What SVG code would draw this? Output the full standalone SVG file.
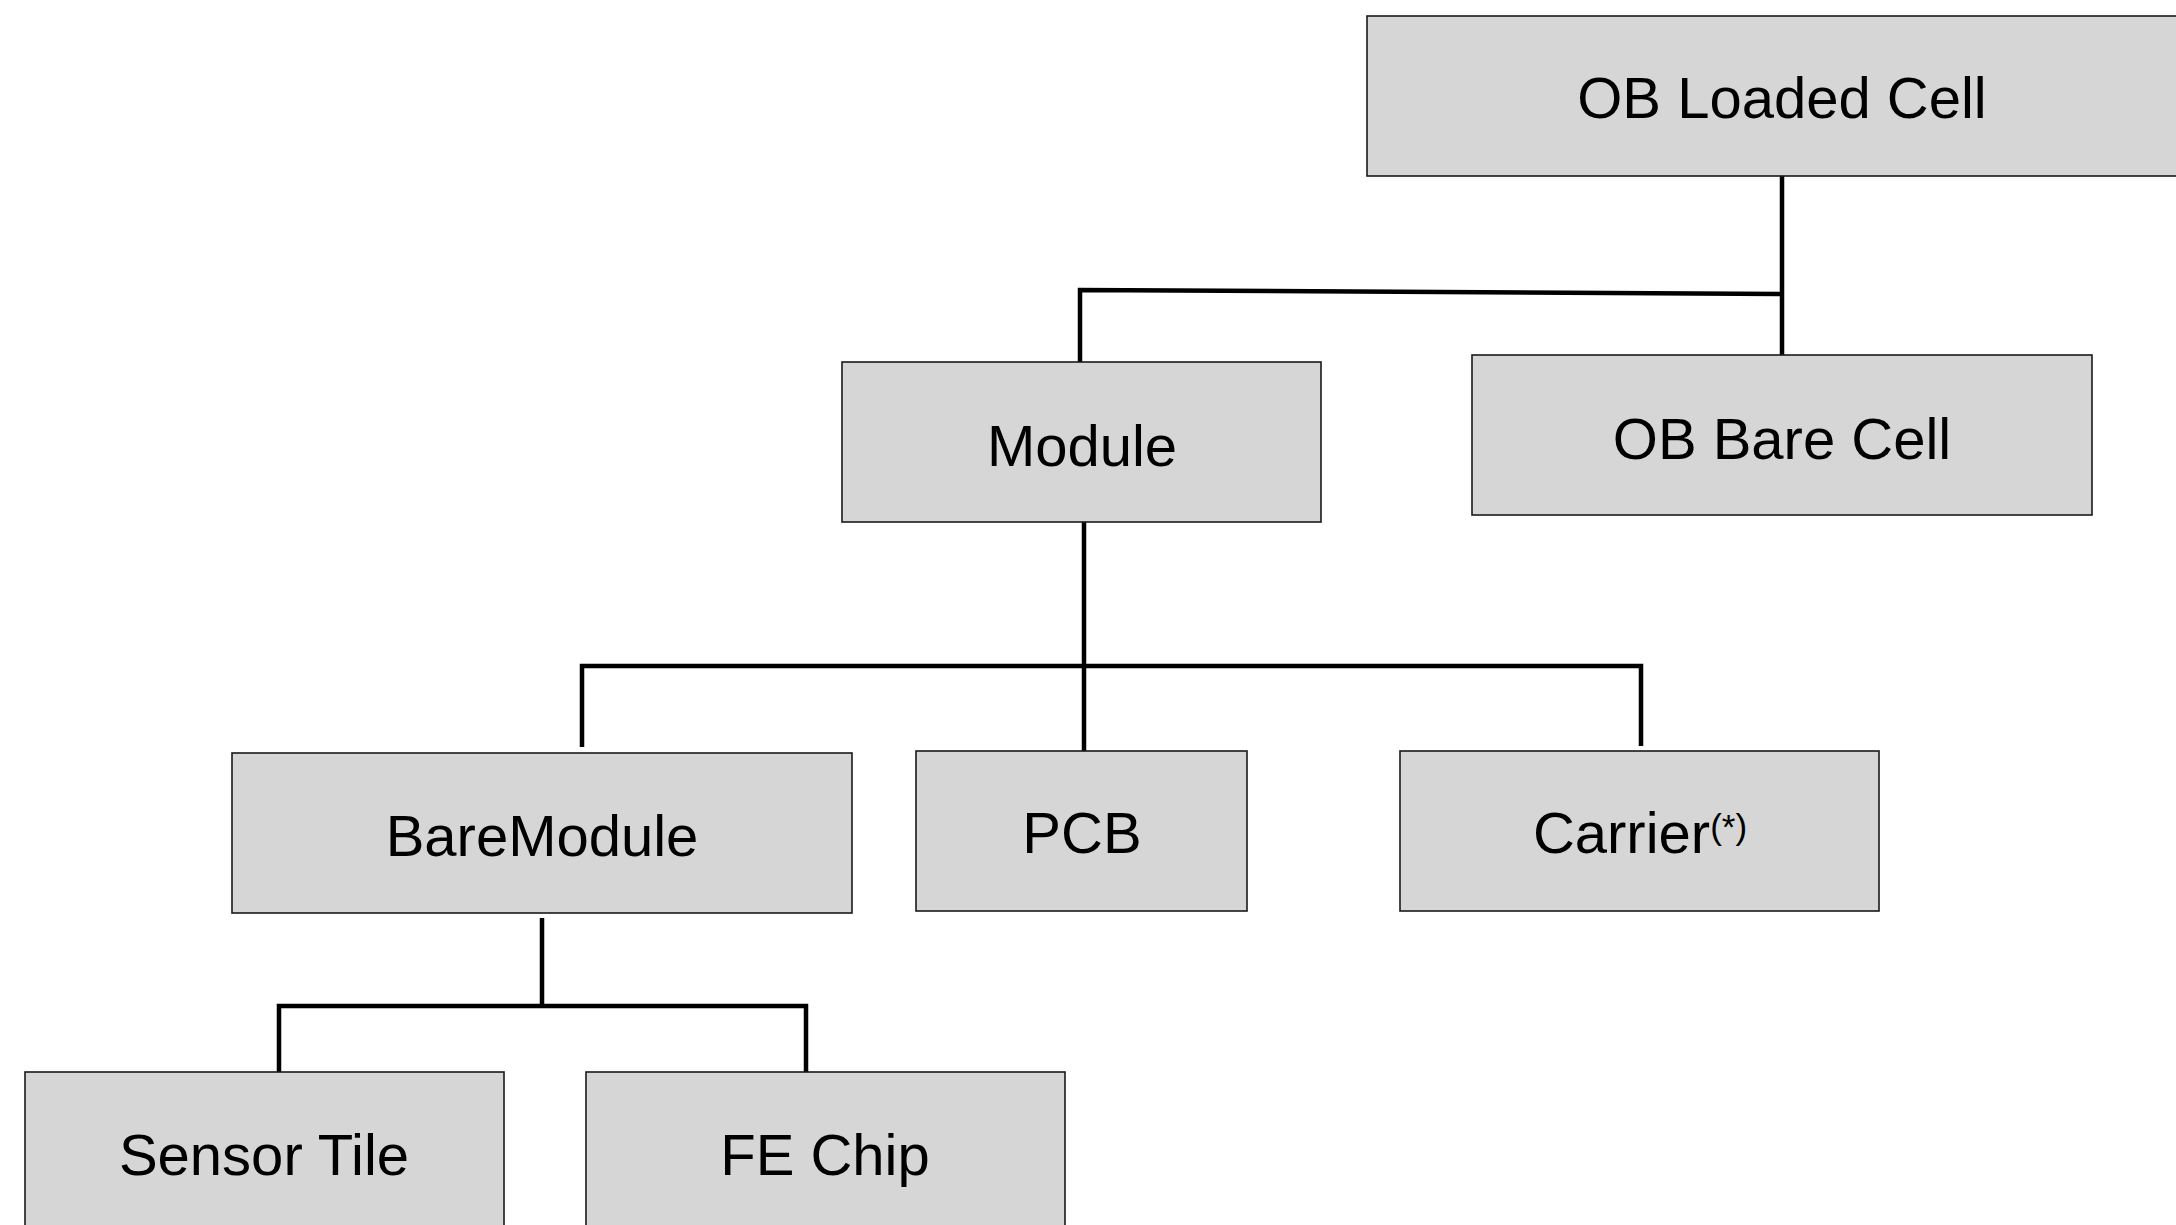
<svg xmlns="http://www.w3.org/2000/svg" width="2176" height="1225" viewBox="0 0 2176 1225">
  <style>
    .box { fill: #d6d6d6; stroke: #1a1a1a; stroke-width: 1.6; }
    .lbl { font-family: "Liberation Sans", Arial, Helvetica, sans-serif; font-size: 58px; fill: #000; text-anchor: middle; }
    .sup { font-size: 35px; }
    .wire { fill: none; stroke: #000; stroke-width: 4.5; stroke-linecap: butt; stroke-linejoin: miter; }
  </style>
  <rect width="2176" height="1225" fill="#ffffff"/>

  <!-- tree connectors -->
  <g id="connectors">
    <path class="wire" d="M1782 176 V355"/>
    <path class="wire" d="M1080 362 V290 L1782 294"/>
    <path class="wire" d="M1084 522 V751"/>
    <path class="wire" d="M582 747 V666 H1641 V746"/>
    <path class="wire" d="M542 918 V1006"/>
    <path class="wire" d="M279 1072 V1006 H806 V1072"/>
  </g>

  <g id="ob-loaded-cell">
    <rect class="box" x="1367" y="16" width="830" height="160"/>
    <text class="lbl" x="1782" y="118">OB Loaded Cell</text>
  </g>

  <g id="module">
    <rect class="box" x="842" y="362" width="479" height="160"/>
    <text class="lbl" x="1082" y="466">Module</text>
  </g>

  <g id="ob-bare-cell">
    <rect class="box" x="1472" y="355" width="620" height="160"/>
    <text class="lbl" x="1782" y="459">OB Bare Cell</text>
  </g>

  <g id="bare-module">
    <rect class="box" x="232" y="753" width="620" height="160"/>
    <text class="lbl" x="542" y="856">BareModule</text>
  </g>

  <g id="pcb">
    <rect class="box" x="916" y="751" width="331" height="160"/>
    <text class="lbl" x="1082" y="853">PCB</text>
  </g>

  <g id="carrier">
    <rect class="box" x="1400" y="751" width="479" height="160"/>
    <text class="lbl" x="1640" y="853">Carrier<tspan class="sup" dy="-14">(*)</tspan></text>
  </g>

  <g id="sensor-tile">
    <rect class="box" x="25" y="1072" width="479" height="170"/>
    <text class="lbl" x="264" y="1175">Sensor Tile</text>
  </g>

  <g id="fe-chip">
    <rect class="box" x="586" y="1072" width="479" height="170"/>
    <text class="lbl" x="825" y="1175">FE Chip</text>
  </g>
</svg>
